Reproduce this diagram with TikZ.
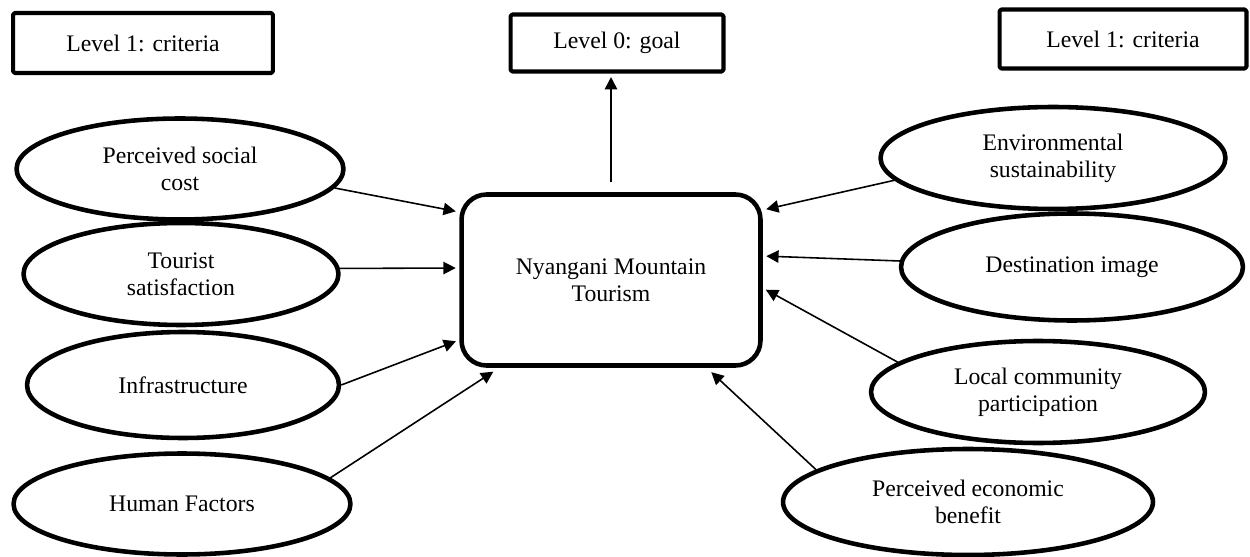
\documentclass[tikz,border=0pt]{standalone}
\usepackage{fontspec}
\setmainfont{Liberation Serif}
\usetikzlibrary{shapes.geometric,arrows.meta,calc}
\begin{document}
\begin{tikzpicture}[x=0.02cm, y=-0.02cm, line join = round,
	every node/.style={font=\fontsize{13.5}{15.5}\selectfont, align=center, inner sep=0pt},
	levelbox/.style={draw, line width=2.3pt, rounded corners=1pt},
	crit/.style={draw, ellipse, line width=2.6pt},
	arr/.style={-{Triangle[length=7pt,width=7pt]}, line width=0.9pt, shorten >=2pt}]
	\useasboundingbox (0,0) rectangle (1250,557);
	% уровни
	\node[levelbox, minimum width=5.2cm, minimum height=1.2cm] (critL) at (143,43) {Level 1: criteria};
	\node[levelbox, minimum width=4.26cm, minimum height=1.14cm] (goal) at (617,43) {Level 0: goal};
	\node[levelbox, minimum width=4.94cm, minimum height=1.18cm] (critR) at (1123,39) {Level 1: criteria};
	% цель
	\node[draw, line width=2.6pt, rounded corners=0.5cm, minimum width=5.98cm, minimum height=3.42cm] (core) at (611,280) {Nyangani Mountain\\Tourism};
	% слева
	\node[crit, minimum width=6.54cm, minimum height=2.02cm] (psc) at (180,169) {Perceived social\\cost};
	\node[crit, minimum width=6.3cm, minimum height=2.04cm] (tsat) at (181,274) {Tourist\\satisfaction};
	\node[crit, minimum width=6.24cm, minimum height=2.12cm] (infra) at (183,385) {Infrastructure};
	\node[crit, minimum width=6.74cm, minimum height=2.02cm] (human) at (182,504) {Human Factors};
	% справа
	\node[crit, minimum width=6.9cm, minimum height=2.04cm] (env) at (1053,158) {Environmental\\sustainability};
	\node[crit, minimum width=6.84cm, minimum height=2.14cm] (dest) at (1072,267) {Destination image};
	\node[crit, minimum width=6.68cm, minimum height=2.04cm] (local) at (1038,392) {Local community\\participation};
	\node[crit, minimum width=7.4cm, minimum height=2.12cm] (econ) at (968,502) {Perceived economic\\benefit};
	% стрелки
	\draw[arr, shorten <=6pt] (core.north) -- (core.north |- goal.south);
	\draw[arr] (psc.-7) -- ($(core.west)+(0,-68)$);
	\draw[arr] (tsat.2) -- ($(core.west)+(0,-12)$);
	\draw[arr] (infra.east) -- ($(core.west)+(0,60)$);
	\draw[arr] (human.10) -- ($(core.south west)+(37,2)$);
	\draw[arr] (env.188) -- ($(core.east)+(0,-70)$);
	\draw[arr] (dest.178) -- ($(core.east)+(0,-24)$);
	\draw[arr] (local.168) -- ($(core.east)+(0,8)$);
	\draw[arr] (econ.168) -- ($(core.south east)+(-54,2)$);
\end{tikzpicture}
\end{document}
